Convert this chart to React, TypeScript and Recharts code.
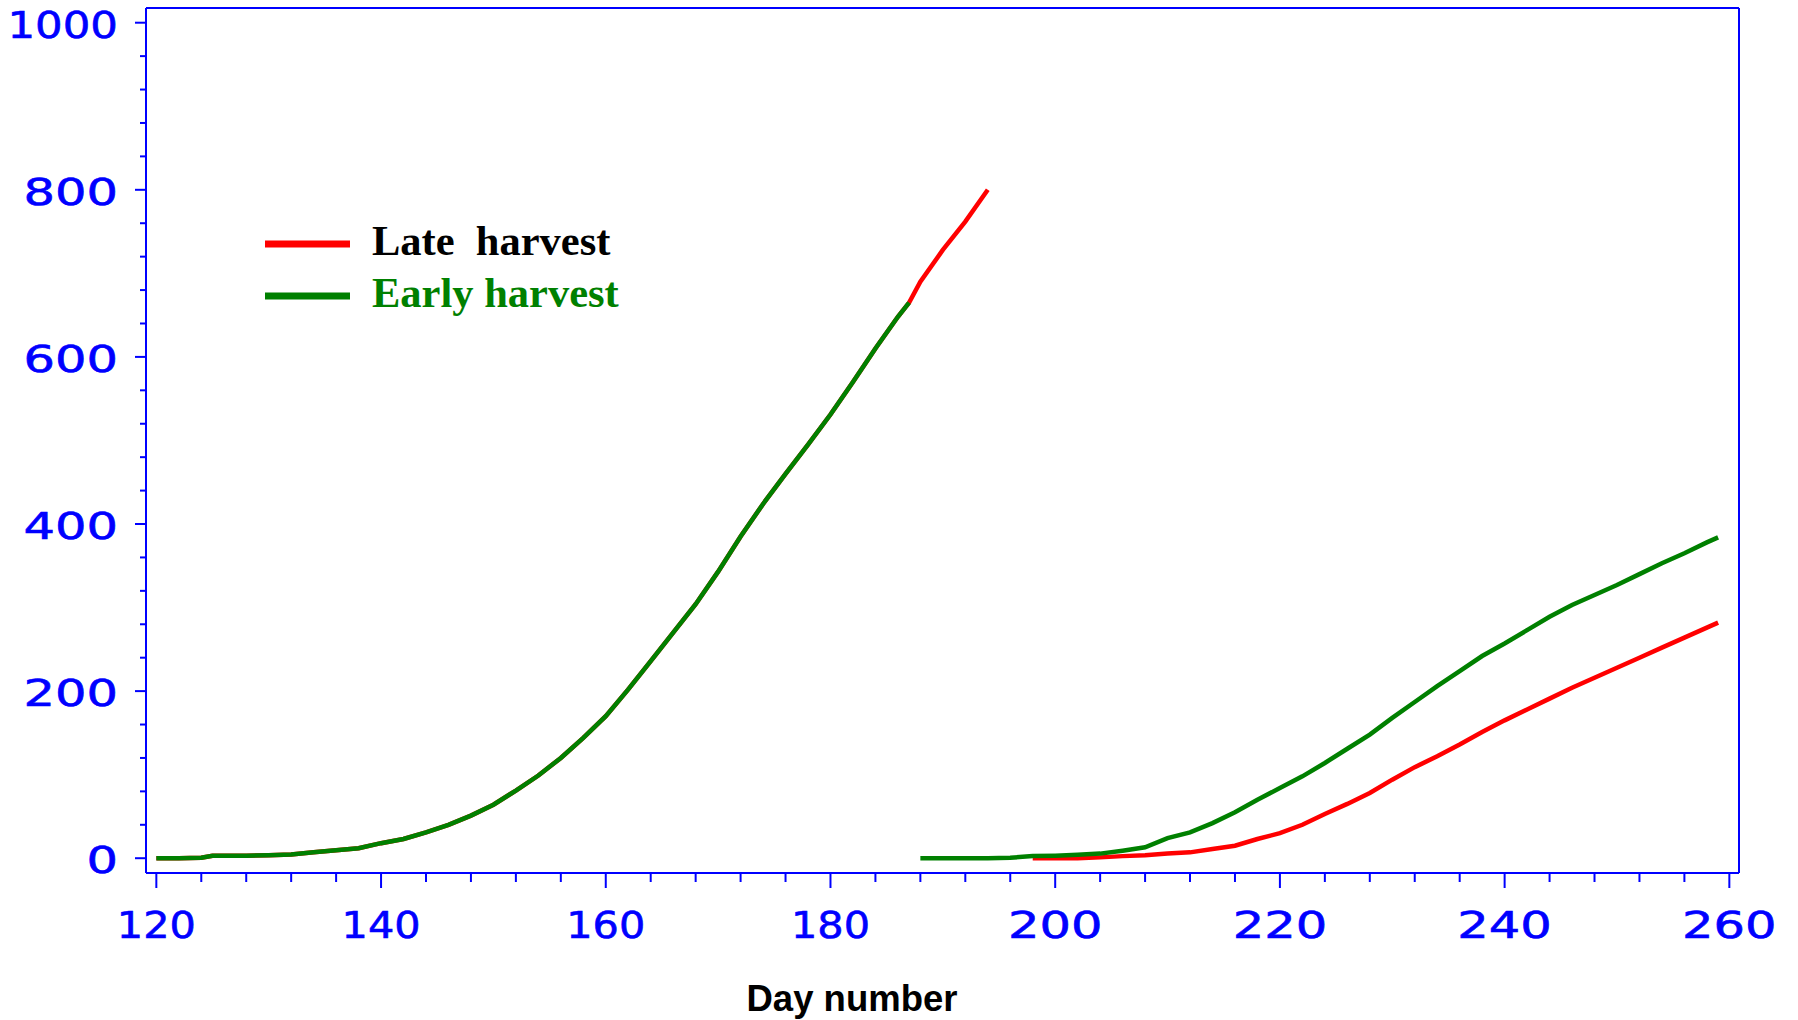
import React from 'react';
import { LineChart, Line, XAxis, YAxis } from 'recharts';

// first season: both harvests share the curve until day 187
const firstDays = [120, 122, 124, 125, 126, 128, 130, 132, 134, 136, 138, 140, 142, 144, 146, 148, 150, 152, 154, 156, 158, 160, 162, 164, 166, 168, 170, 172, 174, 176, 178, 180, 182, 184, 186, 187];
const firstValues = [0, 0, 0.5, 3, 3, 3, 3.5, 4.5, 7, 9.5, 12, 18, 23, 31, 40, 51, 64, 81, 99, 120, 144, 170, 202, 236, 270, 304, 343, 385, 424, 460, 495, 531, 570, 610, 648, 665];
// late harvest carries on after the early one stops
const lateTailDays = [188, 190, 192, 194];
const lateTailValues = [690, 728, 762, 800];

// second season
const earlyDays2 = [188, 190, 192, 194, 196, 198, 200, 202, 204, 206, 208, 210, 212, 214, 216, 218, 220, 222, 224, 226, 228, 230, 232, 234, 236, 238, 240, 242, 244, 246, 248, 250, 252, 254, 256, 258, 259];
const earlyValues2 = [0, 0, 0, 0, 0.5, 2.5, 3, 4, 5.5, 9, 13, 24, 31, 42, 55, 70, 84, 98, 114, 131, 148, 168, 187, 206, 224, 242, 257, 273, 289, 303, 315, 327, 340, 353, 365, 378, 384];
const lateDays2 = [198, 200, 202, 204, 206, 208, 210, 212, 214, 216, 218, 220, 222, 224, 226, 228, 230, 232, 234, 236, 238, 240, 242, 244, 246, 248, 250, 252, 254, 256, 258, 259];
const lateValues2 = [0, 0, 0, 1, 2.5, 3.5, 5.5, 7, 11, 15, 23, 30, 40, 53, 65, 78, 94, 109, 122, 136, 151, 165, 178, 191, 204, 216, 228, 240, 252, 264, 276, 282];

const xMajorTicks = [120, 140, 160, 180, 200, 220, 240, 260];
const yMajorTicks = [0, 200, 400, 600, 800, 1000];
const xMinorStep = 4;
const yMinorStep = 40;

const BLUE = '#0000ff';
const RED = '#ff0000';
const GREEN = '#008000';

const toPoints = (days: number[], values: number[]) =>
  days.map((day, i) => ({ day, value: values[i] }));

const late1 = toPoints([...firstDays, ...lateTailDays], [...firstValues, ...lateTailValues]);
const early1 = toPoints(firstDays, firstValues);
const late2 = toPoints(lateDays2, lateValues2);
const early2 = toPoints(earlyDays2, earlyValues2);

const fillTicks = (major: number[], step: number) => {
  const out: number[] = [];
  for (let v = major[0]; v <= major[major.length - 1]; v += step) out.push(v);
  return out;
};
const xTicks = fillTicks(xMajorTicks, xMinorStep);
const yTicks = fillTicks(yMajorTicks, yMinorStep);

// the original font is very wide, so stretch glyphs to its widths
const labelLength = (s: string) =>
  s.split('').reduce((acc, c) => acc + (c === '1' ? 16 : 31.5), 0);

const tickFont = { fontFamily: '"DejaVu Sans"', fontSize: 37, fill: BLUE, stroke: BLUE, strokeWidth: 0.6 };

const XTick = (props: any) => {
  const { x, y, payload } = props;
  const major = xMajorTicks.includes(payload.value);
  const label = String(payload.value);
  return (
    <g>
      <line x1={x} x2={x} y1={y} y2={y + (major ? 15 : 9)} stroke={BLUE} strokeWidth={2} />
      {major && (
        <text x={x} y={y + 65} textAnchor="middle" textLength={labelLength(label)} lengthAdjust="spacingAndGlyphs" {...tickFont}>
          {label}
        </text>
      )}
    </g>
  );
};

const YTick = (props: any) => {
  const { x, y, payload } = props;
  const major = yMajorTicks.includes(payload.value);
  const label = String(payload.value);
  return (
    <g>
      <line x1={x - (major ? 11 : 6)} x2={x} y1={y} y2={y} stroke={BLUE} strokeWidth={2} />
      {major && (
        <text x={x - 28} y={y + 15} textAnchor="end" textLength={labelLength(label)} lengthAdjust="spacingAndGlyphs" {...tickFont}>
          {label}
        </text>
      )}
    </g>
  );
};

export default function App() {
  return (
    <div style={{ position: 'absolute', left: 0, top: 0, width: 1798, height: 1020, background: '#fff' }}>
      <LineChart width={1798} height={1020} margin={{ top: 7, right: 58, bottom: 0, left: 0 }}>
        <XAxis
          xAxisId="main"
          dataKey="day"
          type="number"
          domain={[119.08, 260.86]}
          allowDataOverflow
          ticks={xTicks}
          interval={0}
          height={147}
          tickSize={0}
          tickMargin={0}
          tickLine={false}
          axisLine={{ stroke: BLUE, strokeWidth: 2 }}
          tick={<XTick />}
        />
        <XAxis xAxisId="top" orientation="top" type="number" domain={[0, 1]} height={1} tick={false} tickLine={false} axisLine={{ stroke: BLUE, strokeWidth: 2 }} />
        <YAxis
          yAxisId="main"
          type="number"
          domain={[-17.7, 1017.6]}
          allowDataOverflow
          ticks={yTicks}
          interval={0}
          width={146}
          tickSize={0}
          tickMargin={0}
          tickLine={false}
          axisLine={{ stroke: BLUE, strokeWidth: 2 }}
          tick={<YTick />}
        />
        <YAxis yAxisId="right" orientation="right" type="number" domain={[0, 1]} width={1} tick={false} tickLine={false} axisLine={{ stroke: BLUE, strokeWidth: 2 }} />

        <Line xAxisId="main" yAxisId="main" data={late1} dataKey="value" name="Late harvest" stroke={RED} strokeWidth={4.5} dot={false} isAnimationActive={false} />
        <Line xAxisId="main" yAxisId="main" data={late2} dataKey="value" name="Late harvest" stroke={RED} strokeWidth={4.5} dot={false} isAnimationActive={false} />
        <Line xAxisId="main" yAxisId="main" data={early1} dataKey="value" name="Early harvest" stroke={GREEN} strokeWidth={4.5} dot={false} isAnimationActive={false} />
        <Line xAxisId="main" yAxisId="main" data={early2} dataKey="value" name="Early harvest" stroke={GREEN} strokeWidth={4.5} dot={false} isAnimationActive={false} />
      </LineChart>

      {/* legend and axis title sit on top of the chart */}
      <svg width={1798} height={1020} style={{ position: 'absolute', left: 0, top: 0, pointerEvents: 'none' }}>
        <line x1={265} x2={350} y1={244} y2={244} stroke={RED} strokeWidth={7} />
        <text x={372} y={255} fontFamily='"Liberation Serif"' fontWeight="bold" fontSize={42.5} fill="#000" style={{ whiteSpace: 'pre' }}>
          Late  harvest
        </text>
        <line x1={265} x2={350} y1={296} y2={296} stroke={GREEN} strokeWidth={7} />
        <text x={372} y={307} fontFamily='"Liberation Serif"' fontWeight="bold" fontSize={42.5} fill={GREEN}>
          Early harvest
        </text>
        <text x={852} y={1011} textAnchor="middle" fontFamily='"Liberation Sans"' fontWeight="bold" fontSize={36.5} fill="#000">
          Day number
        </text>
      </svg>
    </div>
  );
}
